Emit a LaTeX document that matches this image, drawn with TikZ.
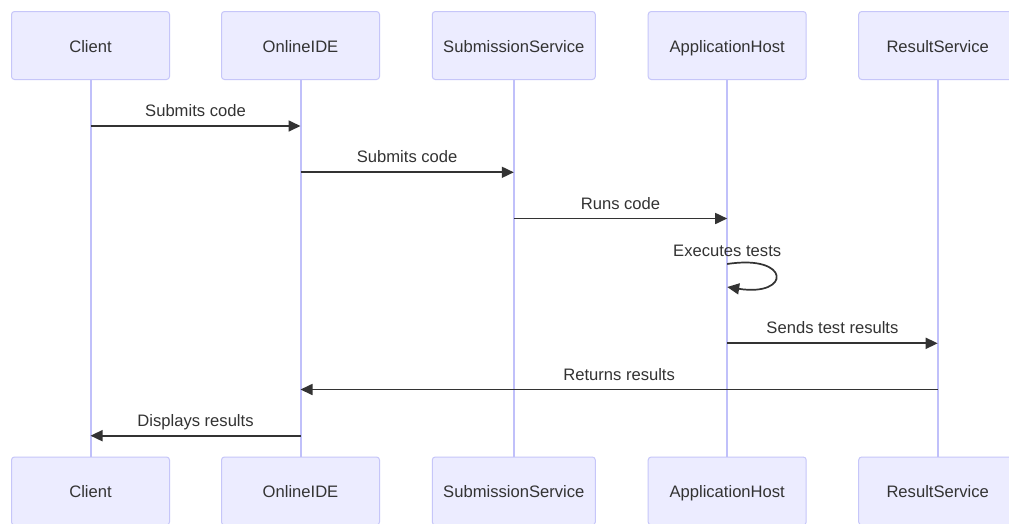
\documentclass[tikz,border=0pt]{standalone}
\usepackage{fontspec}
\setmainfont{Liberation Sans}
\usetikzlibrary{arrows.meta}
\definecolor{actorfill}{HTML}{ECECFF}
\definecolor{actorline}{HTML}{C6C6F9}
\definecolor{lifeline}{HTML}{C0C0FA}
\definecolor{ink}{HTML}{333333}
\tikzset{
  actor/.style={draw=actorline, fill=actorfill, line width=1pt, rounded corners=3pt,
    minimum height=68pt, inner sep=0pt, text=ink, font=\fontsize{16.6}{19}\selectfont,
    text height=13.6pt, text depth=0pt},
  life/.style={draw=lifeline, line width=2pt},
  msg/.style={draw=ink, line width=1.7pt, -{Triangle[length=12pt,width=11pt]}},
  msglabel/.style={text=ink, font=\fontsize{16.6}{19}\selectfont, inner sep=0pt, text depth=0pt}
}
\begin{document}
\begin{tikzpicture}[x=1pt,y=-1pt]
\useasboundingbox (0,0) rectangle (1009,523);
\fill[white] (0,0) rectangle (1009,523);
\begin{scope}
\clip (0,0) rectangle (1009,523);
% participants, top row
\node[actor, minimum width=158pt] (clientT) at (90.5,45.5) {Client};
\node[actor, minimum width=158pt] (ideT) at (300.5,45.5) {OnlineIDE};
\node[actor, minimum width=163pt] (subT) at (513.8,45.5) {SubmissionService};
\node[actor, minimum width=158pt] (hostT) at (727.2,45.5) {ApplicationHost};
\node[actor, minimum width=158pt] (resT) at (937.7,45.5) {ResultService};
% participants, bottom row
\node[actor, minimum width=158pt] (clientB) at (90.5,491) {Client};
\node[actor, minimum width=158pt] (ideB) at (300.5,491) {OnlineIDE};
\node[actor, minimum width=163pt] (subB) at (513.8,491) {SubmissionService};
\node[actor, minimum width=158pt] (hostB) at (727.2,491) {ApplicationHost};
\node[actor, minimum width=158pt] (resB) at (937.7,491) {ResultService};
\end{scope}
% lifelines
\foreach \p in {client,ide,sub,host,res}
  \draw[life] (\p T.south) -- (\p B.north);
% messages
\draw[msg] (clientT |- 0,126) -- (ideT |- 0,126)
  node[msglabel, midway, above=8.5pt] {Submits code};
\draw[msg] (ideT |- 0,172.3) -- (subT |- 0,172.3)
  node[msglabel, midway, above=8.5pt] {Submits code};
\draw[msg] (subT |- 0,218.5) -- (hostT |- 0,218.5)
  node[msglabel, midway, above=8.5pt] {Runs code};
\draw[msg] (hostT |- 0,264) .. controls ([xshift=64pt]hostT |- 0,254) and ([xshift=64pt]hostT |- 0,297) .. (hostT |- 0,287);
\node[msglabel, anchor=base] (selflbl) at (hostT |- 0,256) {Executes tests};
\draw[msg] (hostT |- 0,343.3) -- (resT |- 0,343.3)
  node[msglabel, midway, above=8.5pt] {Sends test results};
\draw[msg] (resT |- 0,389.5) -- (ideT |- 0,389.5)
  node[msglabel, midway, above=8.5pt] {Returns results};
\draw[msg] (ideT |- 0,435.7) -- (clientT |- 0,435.7)
  node[msglabel, midway, above=8.5pt] {Displays results};
\end{tikzpicture}
\end{document}
